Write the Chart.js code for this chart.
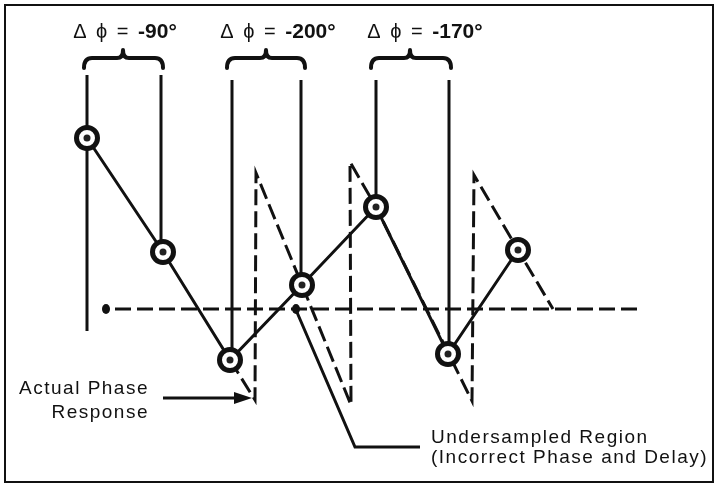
<!DOCTYPE html>
<html>
<head>
<meta charset="utf-8">
<script src="https://cdn.jsdelivr.net/npm/chart.js@4"></script>
<style>
  body { margin: 0; background: #fff; }
  canvas { display: block; }
</style>
</head>
<body>
<canvas id="phase-chart" width="718" height="485"></canvas>
<script>
// diagram units: x to the right, y downwards (axis reversed)
const sampleX = [87, 163, 230, 302, 376, 448, 518];
const sampleY = [138, 252, 360, 285, 207, 354, 250];

// vertical markers under the braces
const markX = [87, 161, 232, 301, 376, 449];
const markTop = [75, 75, 80, 80, 80, 80];
const markBottom = [331, 252, 360, 285, 207, 354];

// dashed sawtooth (wrapped phase)
const wrapX = [230, 255, 256, 302, 351, 350, 376, 472, 474, 518, 553];
const wrapY = [360, 400, 173, 285, 405, 162, 207, 401, 175, 250, 309];

// zero line
const zeroX = [115, 637];
const zeroY = [309, 309];

// leader to the undersampled region note
const leaderX = [296, 355, 420];
const leaderY = [310, 447, 447];

const braceLeft = [84, 227, 371];
const braceRight = [163, 305, 451];
const braceMid = [123, 266, 410];
const deltaLabels = ['-90°', '-200°', '-170°'];
const deltaCenter = [125, 278, 425];

function pts(xs, ys) {
  return xs.map((x, i) => ({ x: x, y: ys[i] }));
}

const datasets = [];

datasets.push({
  data: pts(sampleX, sampleY),
  showLine: false,
  pointRadius: 3.5,
  pointBackgroundColor: '#222',
  pointBorderWidth: 0,
  order: 0,
});
datasets.push({
  data: pts(sampleX, sampleY),
  showLine: true,
  borderColor: '#111',
  borderWidth: 3,
  pointRadius: 10.5,
  pointBorderWidth: 5,
  pointBorderColor: '#111',
  pointBackgroundColor: '#fff',
  order: 1,
});

markX.forEach((x, i) => {
  datasets.push({
    data: [{ x: x, y: markTop[i] }, { x: x, y: markBottom[i] }],
    showLine: true,
    borderColor: '#111',
    borderWidth: 3,
    pointRadius: 0,
    order: 3,
  });
});

datasets.push({
  data: pts(wrapX, wrapY),
  showLine: true,
  borderColor: '#111',
  borderWidth: 3,
  borderDash: [16, 6],
  pointRadius: 0,
  order: 4,
});

datasets.push({
  data: pts(zeroX, zeroY),
  showLine: true,
  borderColor: '#111',
  borderWidth: 3,
  borderDash: [16, 6],
  pointRadius: 0,
  order: 4,
});

datasets.push({
  data: pts(leaderX, leaderY),
  showLine: true,
  borderColor: '#111',
  borderWidth: 3,
  pointRadius: 0,
  order: 3,
});

const notes = {
  id: 'notes',
  afterDatasetsDraw(chart) {
    const ctx = chart.ctx;
    const sx = chart.scales.x;
    const sy = chart.scales.y;
    const px = v => sx.getPixelForValue(v);
    const py = v => sy.getPixelForValue(v);

    ctx.save();
    ctx.strokeStyle = '#111';
    ctx.fillStyle = '#111';

    // frame
    ctx.lineWidth = 2;
    ctx.strokeRect(px(5), py(5), px(713) - px(5), py(482) - py(5));

    // braces
    ctx.lineWidth = 4;
    ctx.lineCap = 'round';
    ctx.lineJoin = 'round';
    braceLeft.forEach((l, i) => {
      const r = braceRight[i], m = braceMid[i];
      ctx.beginPath();
      ctx.moveTo(px(l), py(68));
      ctx.quadraticCurveTo(px(l), py(58), px(l + 8), py(58));
      ctx.lineTo(px(m - 6), py(58));
      ctx.quadraticCurveTo(px(m), py(58), px(m), py(50));
      ctx.quadraticCurveTo(px(m), py(58), px(m + 6), py(58));
      ctx.lineTo(px(r - 8), py(58));
      ctx.quadraticCurveTo(px(r), py(58), px(r), py(68));
      ctx.stroke();
    });

    // delta labels
    const headFont = '20px "Liberation Sans", "DejaVu Sans", sans-serif';
    const boldFont = 'bold 21px "Liberation Sans", Arial, sans-serif';
    ctx.textBaseline = 'alphabetic';
    ctx.textAlign = 'left';
    deltaLabels.forEach((t, i) => {
      const head = 'Δ ϕ = ';
      ctx.font = headFont;
      ctx.letterSpacing = '2px';
      const w1 = ctx.measureText(head).width;
      ctx.font = boldFont;
      ctx.letterSpacing = '0px';
      const w2 = ctx.measureText(t).width;
      const x0 = px(deltaCenter[i]) - (w1 + w2) / 2;
      ctx.font = headFont;
      ctx.letterSpacing = '2px';
      ctx.fillText(head, x0, py(38));
      ctx.font = boldFont;
      ctx.letterSpacing = '0px';
      ctx.fillText(t, x0 + w1, py(38));
    });

    // dots
    [[106, 309], [296, 309]].forEach(d => {
      ctx.beginPath();
      ctx.ellipse(px(d[0]), py(d[1]), 4, 5, 0, 0, Math.PI * 2);
      ctx.fill();
    });

    // arrow for actual phase response
    ctx.lineWidth = 3;
    ctx.lineCap = 'butt';
    ctx.beginPath();
    ctx.moveTo(px(163), py(398));
    ctx.lineTo(px(238), py(398));
    ctx.stroke();
    ctx.beginPath();
    ctx.moveTo(px(252), py(398));
    ctx.lineTo(px(234), py(392));
    ctx.lineTo(px(234), py(404));
    ctx.closePath();
    ctx.fill();

    // texts
    ctx.font = '19px "Liberation Sans", Arial, sans-serif';
    ctx.letterSpacing = '1.5px';
    ctx.textAlign = 'right';
    ctx.fillText('Actual Phase', px(149), py(394));
    ctx.fillText('Response', px(149), py(418));
    ctx.textAlign = 'left';
    ctx.fillText('Undersampled Region', px(431), py(443));
    ctx.fillText('(Incorrect Phase and Delay)', px(431), py(463));
    ctx.restore();
  }
};

new Chart(document.getElementById('phase-chart'), {
  type: 'scatter',
  data: { datasets: datasets },
  options: {
    responsive: false,
    animation: false,
    devicePixelRatio: 1,
    layout: { padding: 0, autoPadding: false },
    plugins: { legend: { display: false }, tooltip: { enabled: false } },
    scales: {
      x: { type: 'linear', min: 0, max: 718, display: false },
      y: { type: 'linear', min: 0, max: 485, reverse: true, display: false },
    },
  },
  plugins: [notes],
});
</script>
</body>
</html>
